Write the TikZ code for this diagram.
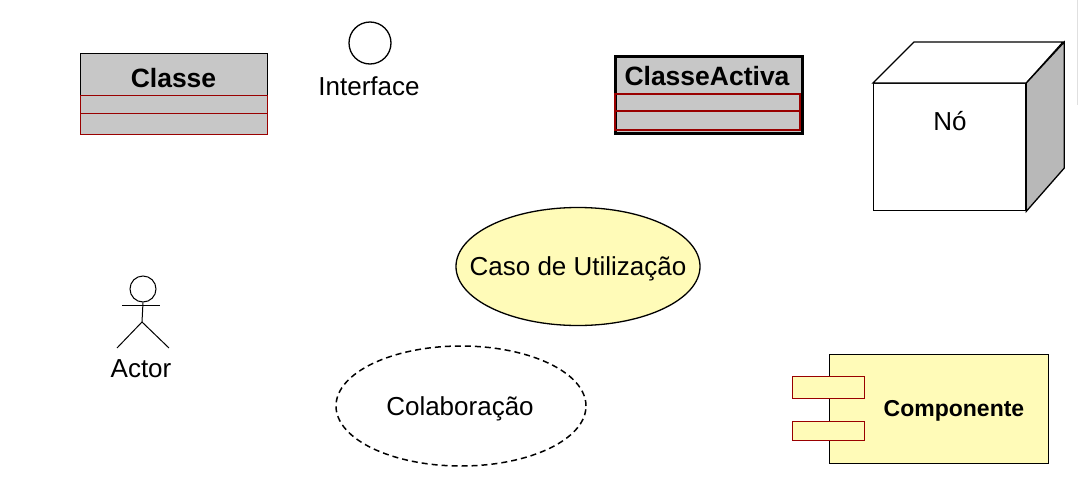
\documentclass[tikz,border=0pt]{standalone}
\usepackage{fontspec}
\setmainfont{Liberation Sans}
\usetikzlibrary{shapes.geometric}
\begin{document}
\begin{tikzpicture}[x=1pt,y=-1pt,
  lbl/.style={font=\fontsize{26}{28}\selectfont, inner sep=0pt, anchor=base},
  blbl/.style={font=\fontsize{26.5}{28}\selectfont\bfseries, inner sep=0pt, anchor=base},
  grayfill/.style={fill=black!22},
  yelfill/.style={fill=yellow!28},
  comp/.style={draw=red!60!black, line width=1.3pt},
  outl/.style={draw=black, line width=1.3pt}]
\useasboundingbox (0,0) rectangle (1080,477);
\draw[black!12, line width=1pt] (1077,0) -- (1077,105);

% Classe
\node[grayfill, outl, minimum width=187pt, minimum height=42pt, inner sep=0pt, anchor=north west] (classeH) at (80,53) {};
\node[grayfill, comp, minimum width=187pt, minimum height=18pt, inner sep=0pt, anchor=north west] (classeA) at (80,95) {};
\node[grayfill, comp, minimum width=187pt, minimum height=21pt, inner sep=0pt, anchor=north west] (classeO) at (80,113) {};
\node[blbl] (classe) at (173.5,87) {Classe};

% Interface
\node[circle, outl, minimum size=42pt, inner sep=0pt] (iface) at (370,43) {};
\node[lbl] (ifacel) at (369,95) {Interface};

% ClasseActiva
\node[grayfill, draw=black, line width=3pt, minimum width=187pt, minimum height=77pt, inner sep=0pt, anchor=north west] (activa) at (613.5,54.5) {};
\draw[comp] (615,94) -- (800,94);
\draw[comp] (615,111) -- (800,111);
\draw[comp] (615,94) rectangle (800,130);
\node[blbl] (actival) at (707,85) {ClasseActiva};

% No (cube)
\node[fill=white, outl, minimum width=152pt, minimum height=127pt, inner sep=0pt, anchor=north west] (no) at (873,83) {};
\draw[outl, fill=white] (no.north west) -- ++(41,-41) -- ++(149,0) -- (no.north east) -- cycle;
\draw[outl, fill=black!28] (no.north east) -- ++(38,-41) -- ++(0,126) -- (no.south east) -- cycle;
\node[lbl] (nol) at (950,130) {Nó};

% Caso de Utilizacao
\node[ellipse, yelfill, outl, minimum width=244pt, minimum height=118pt, inner sep=0pt] (caso) at (578,266.5) {};
\node[lbl] (casol) at (578,275) {Caso de Utilização};

% Colaboracao
\node[ellipse, draw=black, line width=1.5pt, dash pattern=on 6pt off 4pt, minimum width=250pt, minimum height=120pt, inner sep=0pt] (colab) at (461,406) {};
\node[lbl] (colabl) at (460,415) {Colaboração};

% Actor
\node[circle, outl, line width=1pt, minimum size=26pt, inner sep=0pt] (head) at (143,289) {};
\coordinate (hip) at (142,322);
\coordinate (lhand) at (122,305);
\coordinate (rhand) at (160,305);
\coordinate (lfoot) at (117,348);
\coordinate (rfoot) at (169,348);
\draw[black, line width=1pt] (head.south) -- (hip);
\draw[black, line width=1pt] (lhand) -- (rhand);
\draw[black, line width=1pt] (lfoot) -- (hip) -- (rfoot);
\node[lbl] (actorl) at (141,377) {Actor};

% Componente
\node[yelfill, outl, minimum width=219pt, minimum height=109pt, inner sep=0pt, anchor=north west] (compo) at (829,354) {};
\node[yelfill, comp, minimum width=72pt, minimum height=22pt, inner sep=0pt, anchor=north west] (port1) at (792,376) {};
\node[yelfill, comp, minimum width=72pt, minimum height=19pt, inner sep=0pt, anchor=north west] (port2) at (792,421) {};
\node[font=\fontsize{23}{25}\selectfont\bfseries, inner sep=0pt, anchor=base] (compol) at (954,416) {Componente};
\end{tikzpicture}
\end{document}
